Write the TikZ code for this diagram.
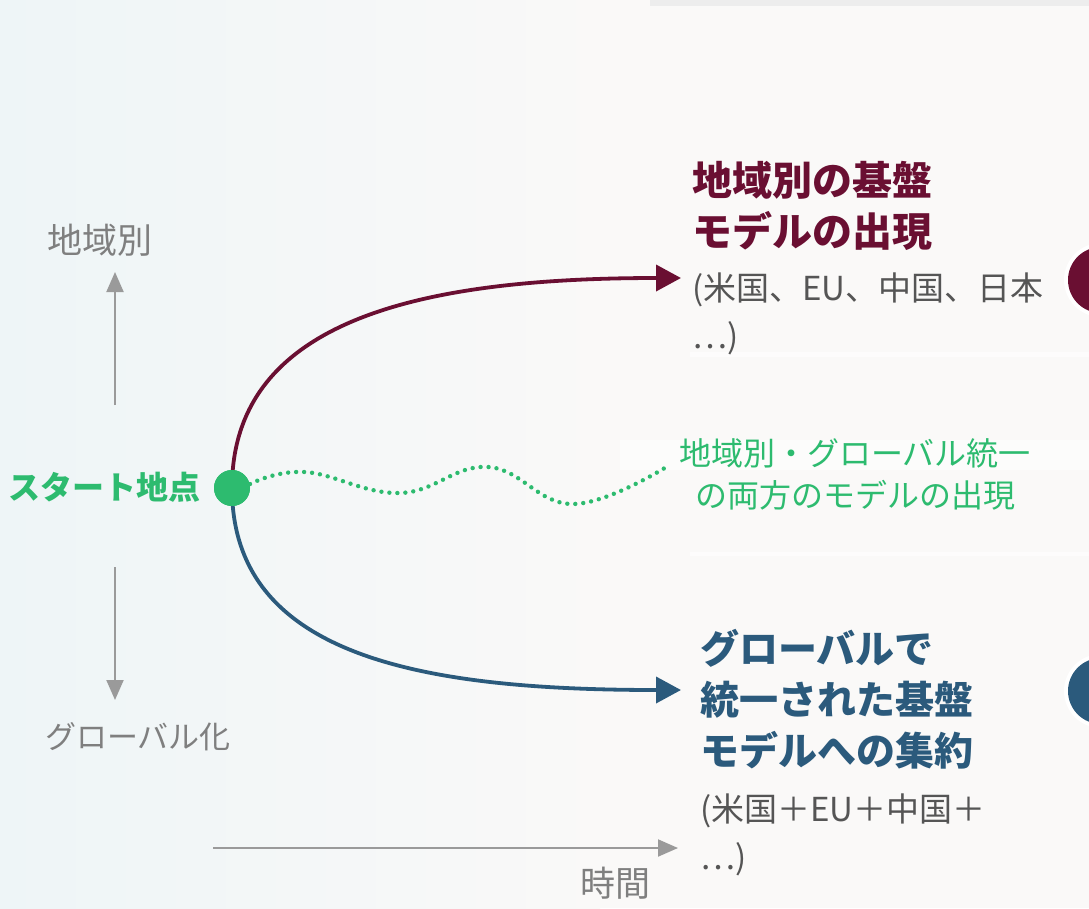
\documentclass[tikz,border=0pt]{standalone}
\usepackage{fontspec}
\newfontfamily\jp{Noto Sans CJK JP}
\usetikzlibrary{arrows.meta}
\definecolor{maroon}{HTML}{6A0F32}
\definecolor{navy}{HTML}{2B5A7C}
\definecolor{startgreen}{HTML}{2DBB6F}
\definecolor{axisgray}{HTML}{9A9A9A}
\definecolor{labelgray}{HTML}{7F7F7F}
\definecolor{detailgray}{HTML}{555555}
\definecolor{bgleft}{HTML}{EEF5F7}
\definecolor{bgright}{HTML}{FAF9F8}
\tikzset{
  axisarrow/.style={draw=axisgray, line width=2pt, -{Triangle[length=20pt,width=17pt]}},
  patharrow/.style={line width=3.8pt, -{Triangle[length=25pt,width=26pt]}},
  axislabel/.style={font=\jp\fontsize{31}{38}\selectfont, text=labelgray, inner sep=0pt},
  titletext/.style={font=\jp\bfseries\fontsize{39}{51}\selectfont, align=left, inner sep=0pt, anchor=west},
  detailtext/.style={font=\jp\fontsize{33}{48}\selectfont, text=detailgray, align=left, inner sep=0pt, anchor=west},
  greentext/.style={font=\jp\fontsize{32}{42}\selectfont, text=startgreen, align=center, inner sep=0pt},
  edgecircle/.style={circle, fill=white, minimum size=74pt, inner sep=0pt},
}
\begin{document}
\begin{tikzpicture}[x=1pt,y=-1pt]
\useasboundingbox (0,0) rectangle (1089,908);
\clip (0,0) rectangle (1089,908);
% background
\shade[left color=bgleft, right color=bgright] (0,0) rectangle (600,908);
\fill[bgright] (600,0) rectangle (1089,908);
\fill[white, opacity=0.5] (620,440) rectangle (1089,470);
\fill[white, opacity=0.6] (690,352) rectangle (1089,357);
\fill[white, opacity=0.6] (690,552) rectangle (1089,556);
\fill[black!7] (650,0) rectangle (1089,6);

% axis arrows
\coordinate (upS) at (115,405);
\coordinate (upE) at (115,272);
\coordinate (dnS) at (115,567);
\coordinate (dnE) at (115,700);
\coordinate (tS) at (213,848);
\coordinate (tE) at (678,848);
\draw[axisarrow] (upS) -- (upE);
\draw[axisarrow] (dnS) -- (dnE);
\draw[axisarrow] (tS) -- (tE);
\node[axislabel, font=\jp\fontsize{35}{40}\selectfont] (lreg) at (100,240) {地域別};
\node[axislabel] (lglob) at (138,737) {グローバル化};
\node[axislabel, font=\jp\fontsize{35}{40}\selectfont] (ltime) at (615,883) {時間};

% start point
\node[circle, fill=startgreen, minimum size=36pt, inner sep=0pt] (start) at (232,488) {};
\node[font=\jp\bfseries\fontsize{32}{40}\selectfont, text=startgreen, anchor=east, inner sep=0pt] (startlbl) at (201,487) {スタート地点};

\coordinate (topE) at (681,278);
\coordinate (botE) at (681,690);

\draw[patharrow, maroon] (start.center) .. controls (232,320) and (420,278) .. (topE);
\draw[patharrow, navy] (start.center) .. controls (232,656) and (420,690) .. (botE);
\draw[startgreen, line width=4.4pt, line cap=round, dash pattern=on 0pt off 8pt]
  plot[smooth, tension=0.7] coordinates {(250,484) (305,472) (400,493) (488,467) (573,504) (668,466)};
\node[circle, fill=startgreen, minimum size=36pt, inner sep=0pt] (startdot) at (start) {};

% texts
\node[titletext, text=maroon, font=\jp\bfseries\fontsize{40}{51}\selectfont] (ttop) at (692,206) {地域別の基盤\\モデルの出現};
\node[detailtext] (dtop) at (692,314) {(米国、EU、中国、日本\\…)};
\node[greentext] (gmid) at (855,474) {地域別・グローバル統一\\の両方のモデルの出現};
\node[titletext, text=navy] (tbot) at (700,699) {グローバルで\\統一された基盤\\モデルへの集約};
\node[detailtext] (dbot) at (700,835) {(米国＋EU＋中国＋\\…)};

% edge circles
\node[edgecircle] (c1) at (1101,280) {};
\node[circle, fill=maroon, minimum size=66pt, inner sep=0pt] (c1in) at (c1) {};
\node[edgecircle] (c2) at (1101,691) {};
\node[circle, fill=navy, minimum size=66pt, inner sep=0pt] (c2in) at (c2) {};
\end{tikzpicture}
\end{document}
